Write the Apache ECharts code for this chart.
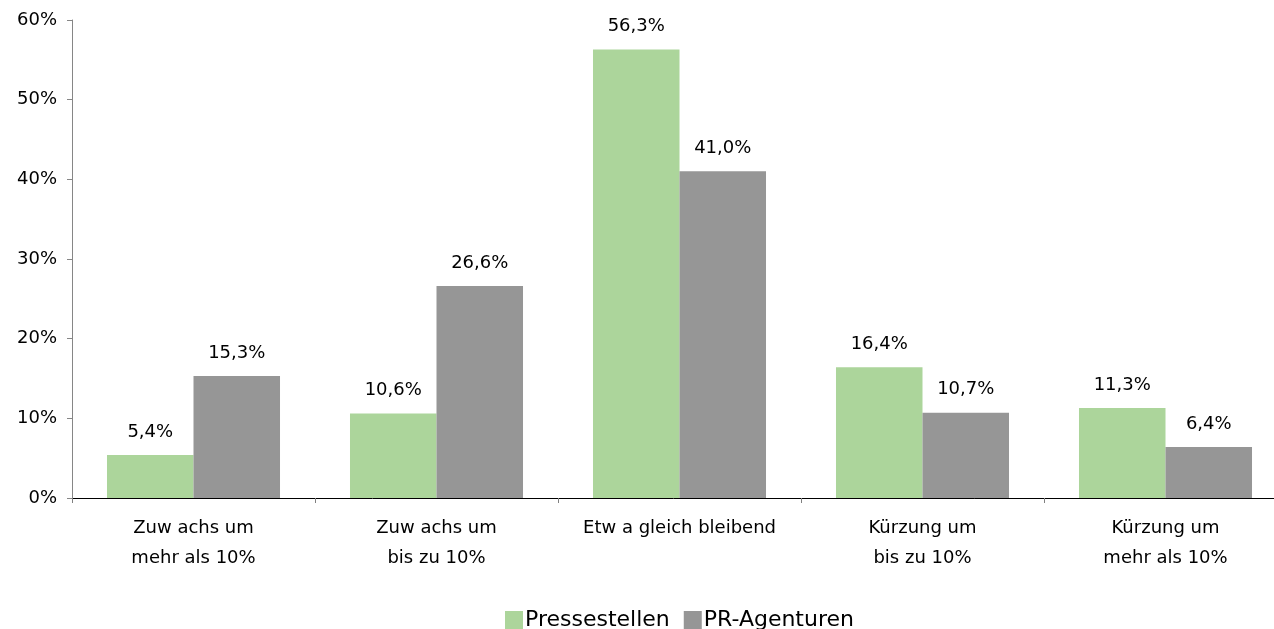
<!DOCTYPE html>
<html>
<head>
<meta charset="utf-8">
<script src="https://cdn.jsdelivr.net/npm/echarts@6/dist/echarts.min.js"></script>
<style>
  html, body { margin: 0; padding: 0; background: #fff; }
  #chart { width: 1274px; height: 629px; }
</style>
</head>
<body>
<div id="chart"></div>
<script>
const categories = [
  'Zuw achs um\nmehr als 10%',
  'Zuw achs um\nbis zu 10%',
  'Etw a gleich bleibend',
  'Kürzung um\nbis zu 10%',
  'Kürzung um\nmehr als 10%'
]
const pressestellen = [5.4, 10.6, 56.3, 16.4, 11.3]
const agenturen = [15.3, 26.6, 41.0, 10.7, 6.4]
const seriesNames = ['Pressestellen', 'PR-Agenturen']

const font = '"DejaVu Sans", Arial, sans-serif'
const fmt = v => v.toFixed(1).replace('.', ',') + '%'

const chart = echarts.init(document.getElementById('chart'))

const barLabel = {
  show: true,
  position: 'top',
  distance: 14,
  color: '#000',
  fontFamily: font,
  fontSize: 18,
  formatter: p => fmt(p.value)
}

chart.setOption({
  animation: false,
  grid: { left: 72, top: 20, bottom: 131, width: 1215, outerBoundsMode: 'none' },
  legend: {
    bottom: -7,
    left: 500,
    itemWidth: 18,
    itemHeight: 18,
    itemGap: 14,
    icon: 'rect',
    textStyle: { fontFamily: font, fontSize: 22, color: '#000', padding: [0, 0, 0, -3] },
    data: seriesNames
  },
  xAxis: {
    type: 'category',
    data: categories,
    axisLine: { lineStyle: { color: '#000', width: 1 } },
    axisTick: { show: true, length: 5, lineStyle: { color: '#808080' } },
    axisLabel: {
      interval: 0,
      margin: 15,
      color: '#000',
      fontFamily: font,
      fontSize: 18,
      lineHeight: 30
    }
  },
  yAxis: {
    type: 'value',
    min: 0,
    max: 60,
    interval: 10,
    splitLine: { show: false },
    axisLine: { show: true, lineStyle: { color: '#868686' } },
    axisTick: { show: true, length: 5, lineStyle: { color: '#868686' } },
    axisLabel: {
      margin: 15,
      color: '#000',
      fontFamily: font,
      fontSize: 18,
      formatter: '{value}%'
    }
  },
  series: [
    {
      name: seriesNames[0],
      type: 'bar',
      data: pressestellen,
      barWidth: '35.6%',
      barGap: '0%',
      itemStyle: { color: '#acd59b' },
      label: barLabel
    },
    {
      name: seriesNames[1],
      type: 'bar',
      data: agenturen,
      barWidth: '35.6%',
      barGap: '0%',
      itemStyle: { color: '#969696' },
      label: barLabel
    }
  ]
})
</script>
</body>
</html>
